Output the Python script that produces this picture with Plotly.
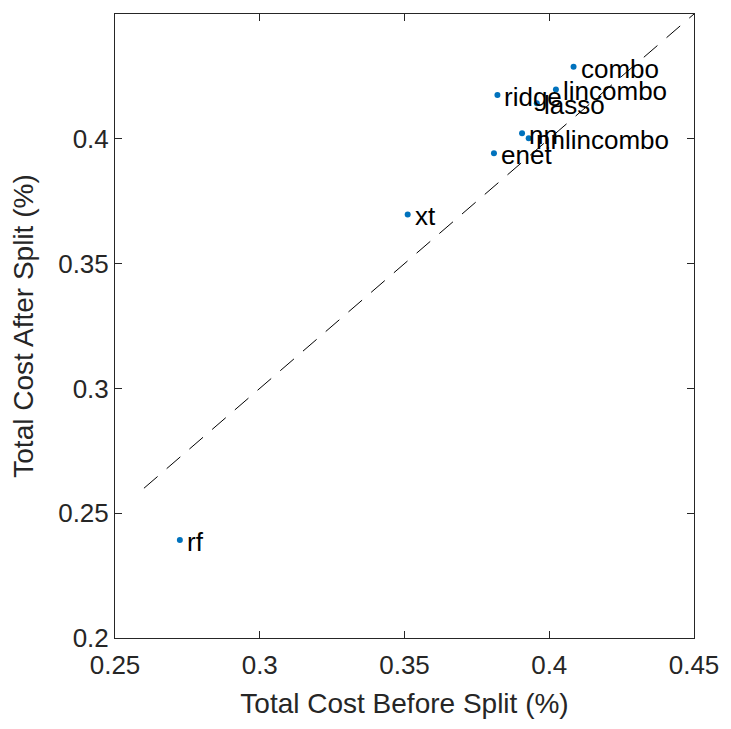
import plotly.graph_objects as go

models = ["combo", "lincombo", "ridge", "lasso", "nn", "nnlincombo", "enet", "xt", "rf"]
cost_before = [0.4084, 0.4023, 0.3821, 0.3957, 0.3906, 0.3929, 0.3809, 0.3511, 0.2724]
cost_after = [0.4289, 0.4198, 0.4175, 0.4142, 0.4022, 0.4002, 0.3942, 0.3697, 0.2393]
diag_x = [0.26, 0.45]
diag_y = [0.26, 0.45]
x_ticks = [0.25, 0.3, 0.35, 0.4, 0.45]
y_ticks = [0.2, 0.25, 0.3, 0.35, 0.4, 0.45]

FONT = "Liberation Sans, Arial, sans-serif"
AX = "#262626"

fig = go.Figure()
fig.add_trace(go.Scatter(x=diag_x, y=diag_y, mode="lines",
                         line=dict(color="black", width=1, dash="18px,12px"),
                         hoverinfo="skip", showlegend=False))
fig.add_trace(go.Scatter(x=cost_before, y=cost_after, mode="markers",
                         marker=dict(color="#0072BD", size=6),
                         showlegend=False))

for name, xv, yv in zip(models, cost_before, cost_after):
    fig.add_annotation(x=xv, y=yv, text=name, showarrow=False,
                       xanchor="left", yanchor="middle", xshift=5, yshift=-2,
                       font=dict(family=FONT, size=26, color="black"))

axis_common = dict(showgrid=False, zeroline=False, showline=True, mirror="ticks",
                   linecolor=AX, linewidth=1, ticks="inside", ticklen=7,
                   tickcolor=AX, tickwidth=1,
                   tickfont=dict(family=FONT, size=26, color=AX))

fig.update_layout(
    width=731, height=729,
    margin=dict(l=115, r=29, t=14, b=91),
    paper_bgcolor="white", plot_bgcolor="white",
    xaxis=dict(range=[0.25, 0.45], tickvals=x_ticks,
               ticktext=[f"{v:g}" for v in x_ticks], ticklabelstandoff=4,
               title=dict(text="Total Cost Before Split (%)",
                          font=dict(family=FONT, size=28, color=AX), standoff=14),
               **axis_common),
    yaxis=dict(range=[0.2, 0.45], tickvals=y_ticks,
               ticktext=[f"{v:g}" for v in y_ticks],
               title=dict(text="Total Cost After Split (%)",
                          font=dict(family=FONT, size=28, color=AX), standoff=16),
               **axis_common),
)

fig.write_html("out.html")
